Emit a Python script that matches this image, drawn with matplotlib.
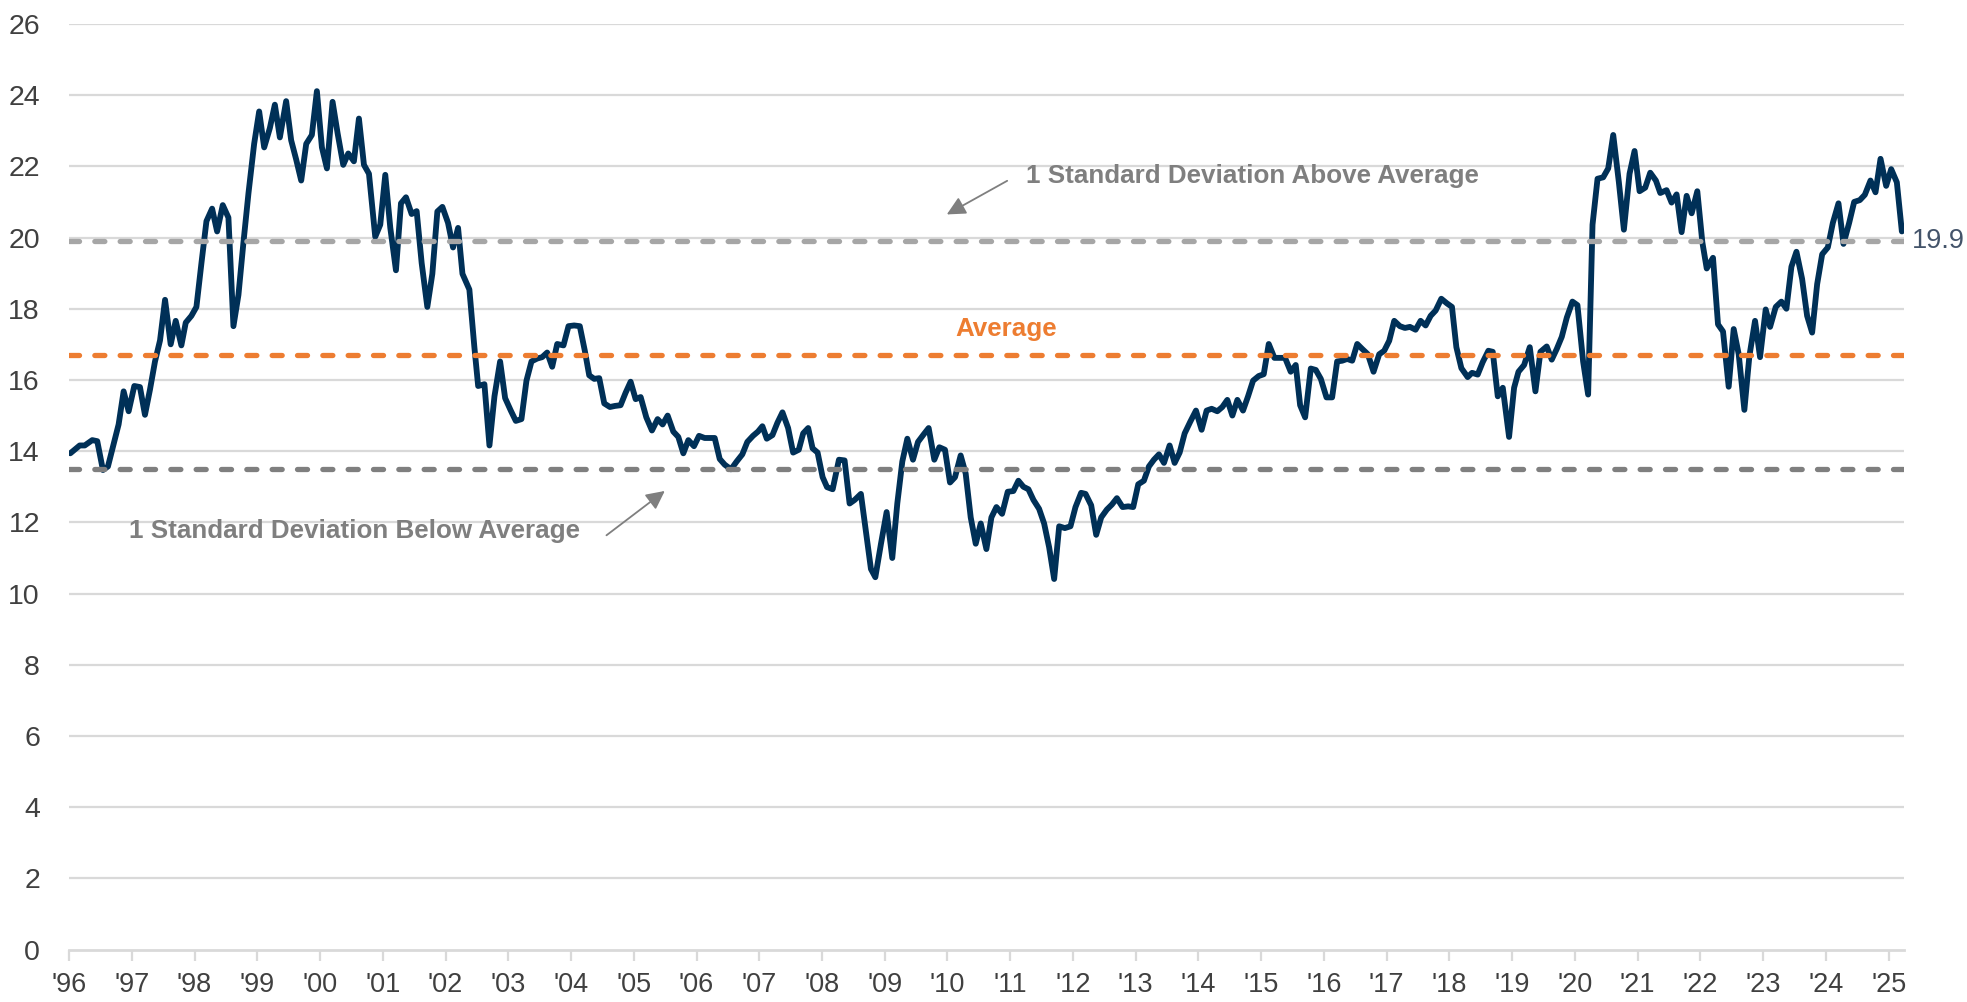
import matplotlib
matplotlib.use('Agg')
import matplotlib.pyplot as plt
import numpy as np

# forward P/E (offset in years from Jan 1996)
t_offset = [
    0.02, 0.17, 0.25, 0.37, 0.45, 0.54, 0.62, 0.79, 0.87, 0.95,
    1.04, 1.13, 1.21, 1.29, 1.37, 1.45, 1.53, 1.62, 1.70, 1.79, 1.86, 1.95,
    2.03, 2.11, 2.19, 2.28, 2.36, 2.45, 2.54, 2.62, 2.70, 2.78, 2.86, 2.95,
    3.03, 3.11, 3.20, 3.28, 3.36, 3.46, 3.54, 3.62, 3.70, 3.78, 3.87, 3.95,
    4.03, 4.11, 4.20, 4.28, 4.37, 4.45, 4.54, 4.62, 4.70, 4.78, 4.88, 4.96,
    5.04, 5.12, 5.21, 5.29, 5.37, 5.46, 5.54, 5.62, 5.71, 5.79, 5.87, 5.95,
    6.04, 6.12, 6.20, 6.27, 6.38, 6.46, 6.52, 6.62, 6.70, 6.78, 6.87, 6.95,
    7.04, 7.12, 7.21, 7.29, 7.37, 7.46, 7.54, 7.62, 7.70, 7.78, 7.88, 7.96,
    8.05, 8.14, 8.22, 8.29, 8.37, 8.45, 8.53, 8.62, 8.70, 8.79, 8.87, 8.95,
    9.03, 9.11, 9.20, 9.29, 9.38, 9.46, 9.54, 9.63, 9.71, 9.79, 9.87, 9.96,
    10.04, 10.13, 10.21, 10.29, 10.37, 10.45, 10.55, 10.64, 10.73, 10.81, 10.90, 10.98,
    11.05, 11.12, 11.21, 11.29, 11.37, 11.46, 11.54, 11.63, 11.70, 11.78, 11.85, 11.93,
    12.01, 12.08, 12.17, 12.27, 12.36, 12.44, 12.52, 12.62, 12.78, 12.85, 12.94,
    13.03, 13.12, 13.20, 13.28, 13.36, 13.45, 13.53, 13.62, 13.70, 13.79, 13.87, 13.96,
    14.04, 14.12, 14.21, 14.29, 14.37, 14.45, 14.53, 14.62, 14.70, 14.78, 14.87, 14.96,
    15.05, 15.13, 15.21, 15.29, 15.37, 15.46, 15.54, 15.62, 15.70, 15.78, 15.87, 15.96,
    16.04, 16.13, 16.20, 16.29, 16.37, 16.45, 16.54, 16.62, 16.70, 16.79, 16.88, 16.96,
    17.04, 17.13, 17.21, 17.29, 17.37, 17.45, 17.54, 17.62, 17.70, 17.78, 17.87, 17.96,
    18.05, 18.13, 18.21, 18.30, 18.38, 18.46, 18.54, 18.62, 18.71, 18.79, 18.87, 18.96,
    19.04, 19.12, 19.21, 19.29, 19.38, 19.47, 19.55, 19.62, 19.70, 19.79, 19.87, 19.95,
    20.04, 20.13, 20.21, 20.29, 20.37, 20.45, 20.53, 20.61, 20.70, 20.79, 20.88, 20.96,
    21.04, 21.12, 21.21, 21.29, 21.37, 21.46, 21.54, 21.62, 21.70, 21.78, 21.87, 21.96,
    22.04, 22.11, 22.19, 22.29, 22.36, 22.45, 22.53, 22.62, 22.69, 22.77, 22.85, 22.95,
    23.03, 23.10, 23.19, 23.28, 23.37, 23.45, 23.55, 23.63, 23.71, 23.79, 23.87, 23.96,
    24.04, 24.13, 24.21, 24.28, 24.36, 24.45, 24.53, 24.61, 24.70, 24.78, 24.87, 24.95,
    25.03, 25.12, 25.20, 25.29, 25.36, 25.46, 25.54, 25.62, 25.70, 25.78, 25.86, 25.95,
    26.03, 26.10, 26.20, 26.28, 26.36, 26.45, 26.53, 26.61, 26.70, 26.78, 26.87, 26.95,
    27.04, 27.11, 27.20, 27.29, 27.37, 27.45, 27.53, 27.62, 27.70, 27.78, 27.86, 27.94,
    28.03, 28.11, 28.20, 28.28, 28.37, 28.45, 28.54, 28.62, 28.71, 28.79, 28.87, 28.96,
    29.04, 29.13, 29.21,
]
pe = [
    13.94, 14.16, 14.16, 14.31, 14.28, 13.47, 13.57, 14.75, 15.68, 15.12,
    15.83, 15.80, 15.02, 15.73, 16.52, 17.11, 18.25, 17.00, 17.66, 16.97, 17.61, 17.80,
    18.05, 19.28, 20.46, 20.81, 20.17, 20.91, 20.56, 17.51, 18.39, 19.87, 21.25, 22.63,
    23.54, 22.53, 23.07, 23.73, 22.81, 23.83, 22.73, 22.19, 21.60, 22.63, 22.88, 24.11,
    22.53, 21.94, 23.81, 22.93, 22.04, 22.36, 22.14, 23.34, 22.04, 21.79, 20.02, 20.36,
    21.76, 20.27, 19.08, 20.96, 21.13, 20.66, 20.74, 19.28, 18.05, 18.98, 20.73, 20.86,
    20.41, 19.72, 20.27, 18.98, 18.54, 16.92, 15.83, 15.88, 14.16, 15.54, 16.52, 15.49,
    15.14, 14.85, 14.90, 15.98, 16.52, 16.60, 16.64, 16.77, 16.37, 17.01, 16.97, 17.51,
    17.53, 17.51, 16.82, 16.13, 16.03, 16.05, 15.34, 15.24, 15.27, 15.29, 15.64, 15.95,
    15.46, 15.52, 14.95, 14.58, 14.90, 14.75, 15.00, 14.55, 14.40, 13.94, 14.31, 14.14,
    14.43, 14.37, 14.37, 14.37, 13.78, 13.62, 13.49, 13.71, 13.91, 14.26, 14.43, 14.55,
    14.70, 14.35, 14.45, 14.80, 15.09, 14.65, 13.96, 14.04, 14.50, 14.65, 14.08, 13.96,
    13.27, 12.99, 12.93, 13.76, 13.74, 12.53, 12.63, 12.80, 10.69, 10.46, 11.40,
    12.29, 11.00, 12.53, 13.71, 14.35, 13.76, 14.26, 14.47, 14.65, 13.76, 14.11, 14.04,
    13.12, 13.27, 13.88, 13.37, 12.14, 11.40, 11.97, 11.25, 12.14, 12.43, 12.24, 12.86,
    12.88, 13.17, 13.00, 12.93, 12.63, 12.38, 11.97, 11.30, 10.41, 11.89, 11.84, 11.89,
    12.43, 12.83, 12.80, 12.48, 11.65, 12.14, 12.36, 12.50, 12.68, 12.43, 12.45, 12.43,
    13.07, 13.17, 13.57, 13.76, 13.91, 13.67, 14.16, 13.67, 13.96, 14.50, 14.83, 15.14,
    14.60, 15.14, 15.19, 15.12, 15.24, 15.44, 15.00, 15.44, 15.14, 15.54, 15.98, 16.11,
    16.16, 17.01, 16.62, 16.62, 16.62, 16.23, 16.42, 15.29, 14.95, 16.32, 16.28, 16.03,
    15.51, 15.51, 16.52, 16.54, 16.59, 16.54, 17.01, 16.87, 16.72, 16.23, 16.72, 16.82,
    17.10, 17.66, 17.51, 17.46, 17.49, 17.41, 17.66, 17.53, 17.80, 17.95, 18.28, 18.15,
    18.05, 16.92, 16.33, 16.08, 16.20, 16.15, 16.50, 16.82, 16.79, 15.54, 15.78, 14.40,
    15.78, 16.23, 16.42, 16.92, 15.68, 16.79, 16.94, 16.57, 16.87, 17.21, 17.75, 18.20,
    18.10, 16.52, 15.59, 20.36, 21.65, 21.69, 21.94, 22.88, 21.55, 20.22, 21.79, 22.43,
    21.30, 21.40, 21.82, 21.60, 21.25, 21.33, 20.98, 21.21, 20.15, 21.17, 20.68, 21.30,
    19.87, 19.13, 19.43, 17.56, 17.36, 15.81, 17.43, 16.72, 15.16, 16.67, 17.66, 16.64,
    17.98, 17.49, 18.05, 18.20, 18.00, 19.18, 19.60, 18.84, 17.80, 17.33, 18.69, 19.53,
    19.72, 20.41, 20.96, 19.82, 20.41, 21.00, 21.05, 21.20, 21.60, 21.27, 22.21, 21.45,
    21.92, 21.55, 20.17,
]

avg = 16.7
sd_above = 19.9
sd_below = 13.5
last_label = '19.9'

years = list(range(1996, 2026))
year_labels = ["'%02d" % (y % 100) for y in years]

x = 1996 + np.array(t_offset)

plt.rcParams['font.family'] = ['Liberation Sans', 'DejaVu Sans']

fig = plt.figure(figsize=(19.67, 10.02), dpi=100)
ax = fig.add_axes([0.0351, 0.0522, 0.9329, 0.9240])

for v in range(2, 27, 2):
    ax.axhline(v, color='#d9d9d9', lw=1.6, zorder=1)

ax.plot(x, pe, color='#003057', lw=4.2, zorder=3,
        solid_joinstyle='round', solid_capstyle='round')

for val, col in [(sd_above, '#a6a6a6'), (avg, '#ed7d31'), (sd_below, '#7f7f7f')]:
    ax.axhline(val, color=col, lw=3.8, dashes=(1.9, 2.9), dash_capstyle='round', zorder=4)

ax.set_xlim(1996, 2025.245)
ax.set_ylim(0, 26)
ax.set_yticks(range(0, 27, 2))
ax.set_xticks(years)
ax.set_xticklabels(year_labels)

for s in ['top', 'right', 'left']:
    ax.spines[s].set_visible(False)
ax.spines['bottom'].set_color('#d9d9d9')
ax.spines['bottom'].set_linewidth(2)

ax.tick_params(axis='y', length=0, pad=21, labelsize=20.5, labelcolor='#404040')
ax.tick_params(axis='x', length=8, width=1.6, color='#d9d9d9', pad=8,
               labelsize=19.5, labelcolor='#404040')

gray = '#7f7f7f'
ax.text(1996 + 15.25, 21.74, '1 Standard Deviation Above Average', fontsize=18.7,
        fontweight='bold', color=gray, ha='left', va='center')
ax.annotate('', xy=(1996 + 13.95, 20.61), xytext=(1996 + 14.99, 21.63),
            arrowprops=dict(arrowstyle='-|>', color=gray, lw=1.3, mutation_scale=28))
ax.text(1996 + 0.96, 11.77, '1 Standard Deviation Below Average', fontsize=18.7,
        fontweight='bold', color=gray, ha='left', va='center')
ax.annotate('', xy=(1996 + 9.53, 12.93), xytext=(1996 + 8.53, 11.59),
            arrowprops=dict(arrowstyle='-|>', color=gray, lw=1.3, mutation_scale=28))
ax.text(1996 + 14.93, 17.44, 'Average', fontsize=18.7, fontweight='bold',
        color='#ed7d31', ha='center', va='center')

ax.text(1.004, sd_above / 26, last_label, transform=ax.transAxes, fontsize=19.5,
        color='#44546a', ha='left', va='center')

fig.savefig('out.png', dpi=100)
